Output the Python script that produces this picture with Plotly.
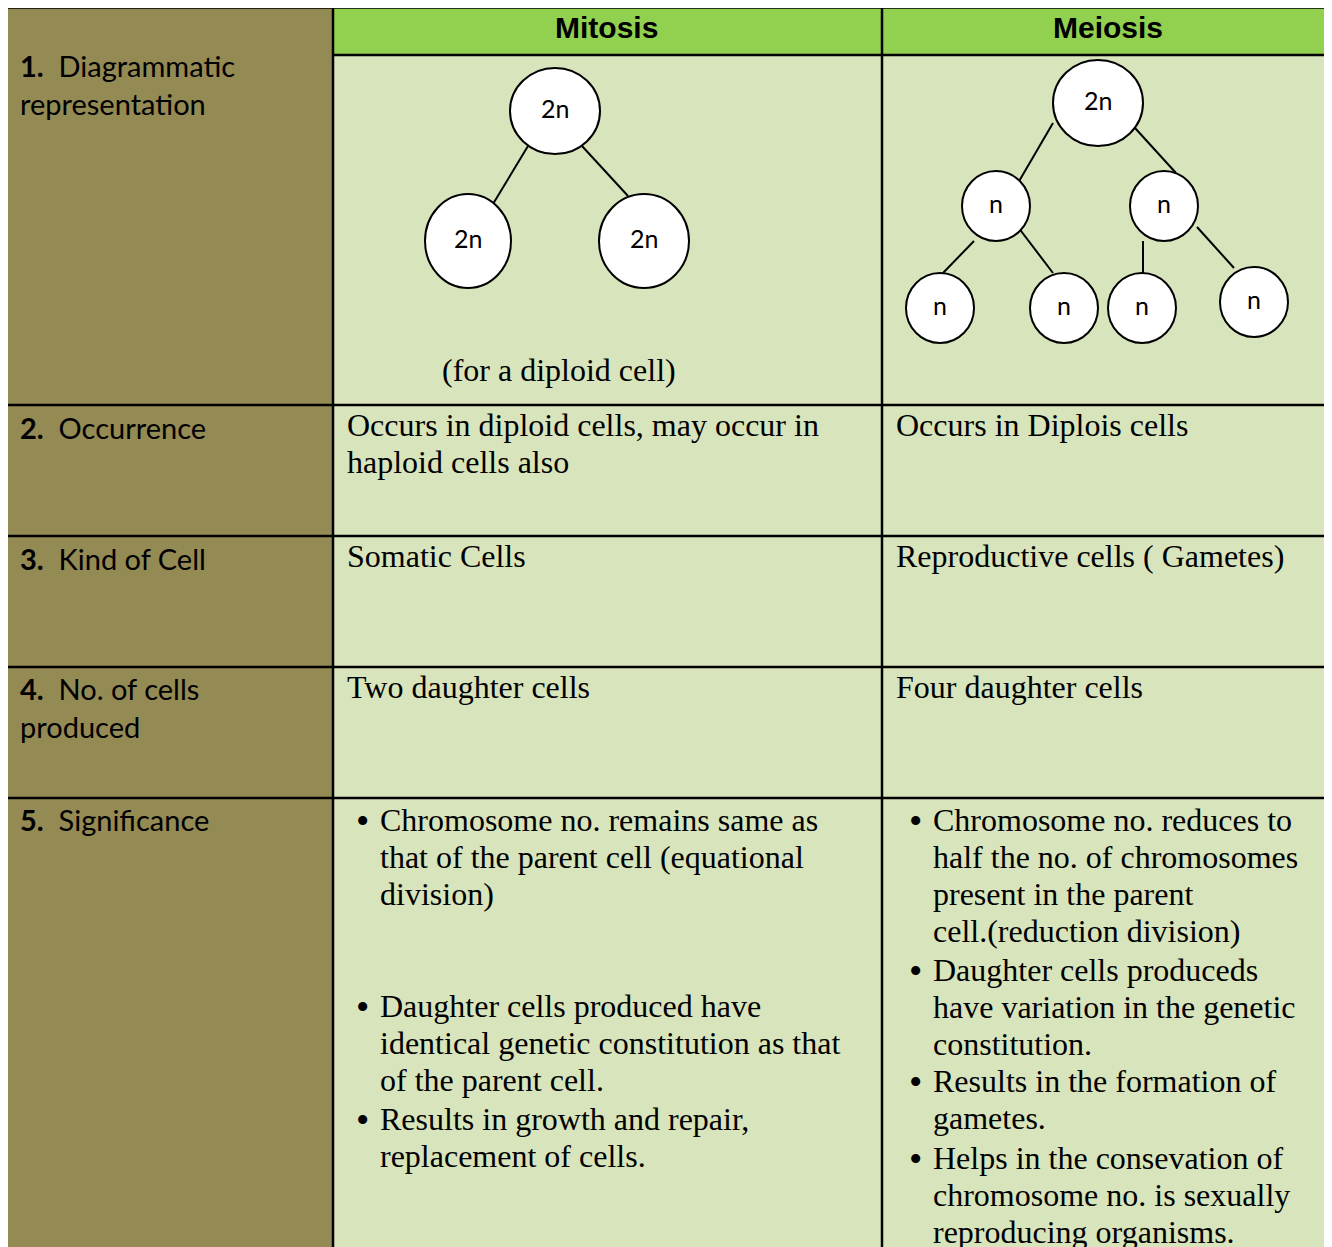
import plotly.graph_objects as go

# ---------------- DATA ----------------
column_headers = ["Mitosis", "Meiosis"]
row_numbers = ["1.", "2.", "3.", "4.", "5."]
row_label_lines = [
    ["Diagrammatic", "representation"],
    ["Occurrence"],
    ["Kind of Cell"],
    ["No. of cells", "produced"],
    ["Significance"],
]
mitosis_simple = [
    ["Occurs in diploid cells, may occur in", "haploid cells also"],
    ["Somatic Cells"],
    ["Two daughter cells"],
]
meiosis_simple = [
    ["Occurs in Diplois cells"],
    ["Reproductive cells ( Gametes)"],
    ["Four daughter cells"],
]
mitosis_bullets = [
    ["Chromosome no. remains same as", "that of the parent cell (equational", "division)"],
    ["Daughter cells produced have", "identical genetic constitution as that", "of the parent cell."],
    ["Results in growth and repair,", "replacement of cells."],
]
meiosis_bullets = [
    ["Chromosome no. reduces to", "half the no. of chromosomes", "present in the parent", "cell.(reduction division)"],
    ["Daughter cells produceds", "have variation in the genetic", "constitution."],
    ["Results in the formation of", "gametes."],
    ["Helps in the consevation of", "chromosome no. is sexually", "reproducing organisms."],
]
mitosis_caption = "(for a diploid cell)"
mitosis_nodes = ["2n", "2n", "2n"]
meiosis_nodes = ["2n", "n", "n", "n", "n", "n", "n"]

# ---------------- LAYOUT ----------------
W, H = 1332, 1247
OFF = 8  # page body margin compensation
X0, X1, X2, XR = 6, 333, 882, 1345
Y0, YH = 7, 55
row_tops = [7, 405, 536, 667, 798]
YB = 1265
OLIVE = "#948A54"
GREEN = "#92D050"
LIGHT = "#D8E4BC"
SERIF = "Liberation Serif"
SANS = "Lato"
LINE = 37

mit_bullet_y = [820, 1006, 1119]
mei_bullet_y = [820, 970, 1081, 1158]

# node geometry: (cx, cy, rx, ry)
mit_geo = [(555, 111, 45, 43), (468, 241, 43, 47), (644, 241, 45, 47)]
mit_edges = [((528, 146), (493, 204)), ((582, 146), (628, 196))]
mei_geo = [(1098, 103, 45, 43), (996, 206, 34, 35), (1164, 206, 34, 35),
           (940, 308, 34, 35), (1064, 308, 34, 35), (1142, 308, 34, 35), (1254, 302, 34, 35)]
mei_edges = [((1053, 123), (1018, 183)), ((1135, 128), (1176, 173)),
             ((974, 241), (943, 273)), ((1018, 227), (1053, 273)),
             ((1143, 241), (1143, 273)), ((1197, 227), (1234, 268))]

shapes = []
annotations = []

def rect(x0, y0, x1, y1, fill):
    shapes.append(dict(type="rect", x0=x0, y0=y0, x1=x1, y1=y1, fillcolor=fill,
                       line=dict(width=0), layer="below"))

def hline(y, xa, xb, w=2.5):
    shapes.append(dict(type="line", x0=xa, x1=xb, y0=y, y1=y, line=dict(color="black", width=w)))

def vline(x, ya, yb, w=2.5):
    shapes.append(dict(type="line", x0=x, x1=x, y0=ya, y1=yb, line=dict(color="black", width=w)))

def text(x, y, s, size=32, family=SERIF, anchor="left", bold=False):
    if bold:
        s = "<b>" + s + "</b>"
    annotations.append(dict(x=x, y=y, text=s, showarrow=False, xanchor=anchor, yanchor="middle",
                            font=dict(family=family, size=size, color="black"),
                            xref="x", yref="y"))

# backgrounds
rect(X0, Y0, X1, YB, OLIVE)
rect(X1, Y0, XR, YH, GREEN)
rect(X1, YH, XR, YB, LIGHT)

# grid lines
hline(Y0, X0 - 1.5, XR, 3.5)
vline(X0, Y0 - 1.5, YB, 3.5)
vline(X1, Y0, YB)
vline(X2, Y0, YB)
hline(YH, X1, XR)
for yt in row_tops[1:]:
    hline(yt, X0, XR)

# headers
text((X1 + X2) / 2 - 1, 27, column_headers[0], size=30, family="Liberation Sans", anchor="center", bold=True)
text(1108, 27, column_headers[1], size=30, family="Liberation Sans", anchor="center", bold=True)

# row labels
label_y0 = [65, 427, 558, 688, 819]
for i, lines in enumerate(row_label_lines):
    for j, ln in enumerate(lines):
        s = ("<b>" + row_numbers[i] + "</b>\u00a0 " + ln) if j == 0 else ln
        text(18, label_y0[i] + j * 38.5, s, size=29, family=SANS)

# simple cells
for i in range(3):
    yt = row_tops[i + 1] + 20
    for j, ln in enumerate(mitosis_simple[i]):
        text(345, yt + j * LINE, ln)
    for j, ln in enumerate(meiosis_simple[i]):
        text(894, yt + j * LINE, ln)

# bullets
def bullets(items, starts, xb, xt):
    for k, lines in enumerate(items):
        text(xb, starts[k] + 1, "•", size=38)
        for j, ln in enumerate(lines):
            text(xt, starts[k] + j * LINE, ln)

bullets(mitosis_bullets, mit_bullet_y, 354, 378)
bullets(meiosis_bullets, mei_bullet_y, 907, 931)

# caption
text(559, 370, mitosis_caption, anchor="center")

# diagrams
def tree(labels, geo, edges):
    for (a, b) in edges:
        shapes.append(dict(type="line", x0=a[0], y0=a[1], x1=b[0], y1=b[1],
                           line=dict(color="black", width=2)))
    for lab, (cx, cy, rx, ry) in zip(labels, geo):
        shapes.append(dict(type="circle", x0=cx - rx, x1=cx + rx, y0=cy - ry, y1=cy + ry,
                           fillcolor="white", line=dict(color="black", width=2)))
        text(cx, cy - 3, lab, size=25, family=SANS, anchor="center")

tree(mitosis_nodes, mit_geo, mit_edges)
tree(meiosis_nodes, mei_geo, mei_edges)

fig = go.Figure()
fig.update_layout(
    width=W, height=H, margin=dict(l=0, r=0, t=0, b=0),
    paper_bgcolor="white", plot_bgcolor="white",
    xaxis=dict(range=[OFF, W + OFF], visible=False, fixedrange=True),
    yaxis=dict(range=[H + OFF, OFF], visible=False, fixedrange=True),
    shapes=shapes, annotations=annotations, showlegend=False,
)
fig.write_html("out.html")
